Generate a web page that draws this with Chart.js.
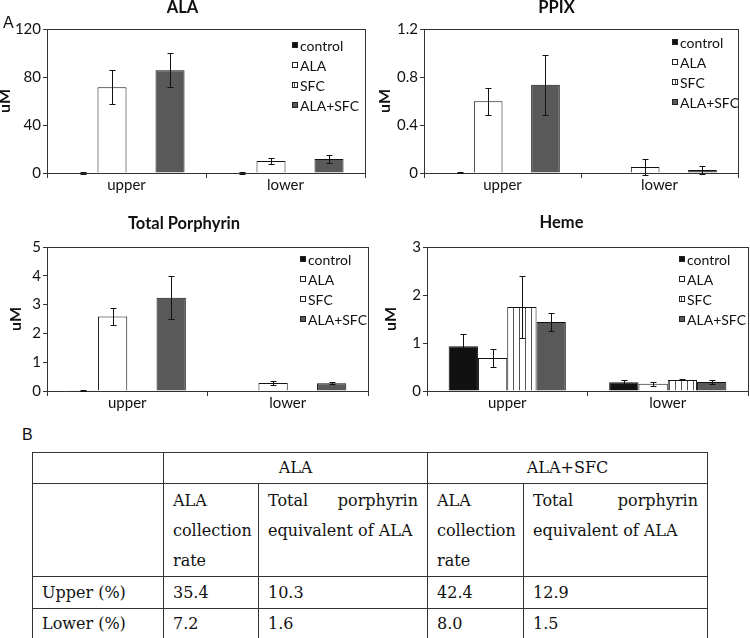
<!DOCTYPE html>
<html>
<head>
<meta charset="utf-8">
<script src="https://cdn.jsdelivr.net/npm/chart.js@4.4.0/dist/chart.umd.min.js"></script>
<style>
  body { margin: 0; background: #fff; }
  #page { position: relative; width: 750px; height: 638px; overflow: hidden; background: #fff; }
  canvas { position: absolute; }
  .panel { position: absolute; font-family: 'Liberation Sans', Arial, sans-serif; color: #111; line-height: 16px; }
  #tbl { position: absolute; left: 32px; top: 452px; width: 675px; border-collapse: collapse; table-layout: fixed;
         font-family: 'DejaVu Serif', serif; font-size: 16px; color: #111; }
  #tbl td { border: 1px solid #333; padding: 0 5px 0 9px; line-height: 30px; text-align: left; vertical-align: middle; white-space: normal; }
  #tbl td.c { text-align: center; padding: 0; }
  #tbl tr.sub td { vertical-align: top; padding-top: 2px; text-align: justify; }
  #tbl tr.sub td.wide { padding-right: 9px; }
</style>
</head>
<body>
<div id="page">
  <canvas id="c1"></canvas>
  <canvas id="c2"></canvas>
  <canvas id="c3"></canvas>
  <canvas id="c4"></canvas>
  <div class="panel" style="left:3px; top:15px; font-size:16px;">A</div>
  <div class="panel" style="left:22px; top:427px; font-size:16px;">B</div>
  <table id="tbl"></table>
</div>
<script>
// categories and series
const categories = ['upper', 'lower'];
const seriesNames = ['control', 'ALA', 'SFC', 'ALA+SFC'];

// one row per series: [upper, lower]
const alaMean = [[0, 0], [71.4, 10.0], [0, 0], [85.6, 11.7]];
const alaErr = [[0.8, 0.8], [14.3, 2.1], [0, 0], [14.3, 3.0]];
const alaTicks = [0, 40, 80, 120];

const ppixMean = [[0.005, 0], [0.597, 0.05], [0.005, 0], [0.736, 0.025]];
const ppixErr = [[0.004, 0], [0.11, 0.07], [0, 0], [0.25, 0.033]];
const ppixTicks = [0, 0.4, 0.8, 1.2];

const porphMean = [[0.01, 0], [2.59, 0.28], [0.02, 0], [3.24, 0.27]];
const porphErr = [[0.01, 0], [0.3, 0.06], [0, 0], [0.75, 0.04]];
const porphTicks = [0, 1, 2, 3, 4, 5];

const hemeMean = [[0.93, 0.18], [0.69, 0.15], [1.75, 0.23], [1.44, 0.19]];
const hemeErr = [[0.26, 0.05], [0.19, 0.04], [0.65, 0.01], [0.18, 0.04]];
const hemeTicks = [0, 1, 2, 3];

// table B
const groupHeads = ['ALA', 'ALA+SFC'];
const subHeads = ['ALA collection rate', 'Total porphyrin equivalent of ALA'];
const rowLabels = ['Upper (%)', 'Lower (%)'];
const alaCollection = ['35.4', '7.2'];
const alaPorphyrin = ['10.3', '1.6'];
const mixCollection = ['42.4', '8.0'];
const mixPorphyrin = ['12.9', '1.5'];

// vertical stripes for the SFC bars
function stripes() {
  const p = document.createElement('canvas');
  p.width = 6; p.height = 6;
  const c = p.getContext('2d');
  c.fillStyle = '#fff';
  c.fillRect(0, 0, 6, 6);
  c.fillStyle = '#555';
  c.fillRect(0, 0, 1, 6);
  return c.createPattern(p, 'repeat');
}
const fills = ['#111', '#fff', stripes(), '#595959'];

const errorBars = {
  id: 'errorBars',
  afterDatasetsDraw(chart) {
    const ctx = chart.ctx, y = chart.scales.y;
    ctx.save();
    ctx.strokeStyle = '#111';
    ctx.lineWidth = 1;
    chart.data.datasets.forEach((ds, i) => {
      chart.getDatasetMeta(i).data.forEach((bar, j) => {
        const e = ds.errors[j];
        if (!e) return;
        const v = ds.data[j];
        const top = Math.round(y.getPixelForValue(v + e)) + 0.5;
        const bot = Math.round(y.getPixelForValue(v - e)) + 0.5;
        const x = Math.round(bar.x) + 0.5;
        ctx.beginPath();
        ctx.moveTo(x, top); ctx.lineTo(x, bot);
        ctx.moveTo(x - 3, top); ctx.lineTo(x + 3, top);
        ctx.moveTo(x - 3, bot); ctx.lineTo(x + 3, bot);
        ctx.stroke();
      });
    });
    ctx.restore();
  }
};

// box around the plot area
const frame = {
  id: 'frame',
  afterDatasetsDraw(chart) {
    const {ctx, chartArea: a} = chart;
    ctx.save();
    ctx.strokeStyle = '#333';
    ctx.lineWidth = 1;
    ctx.strokeRect(Math.round(a.left) + 0.5, Math.round(a.top) + 0.5,
                   Math.round(a.right - a.left), Math.round(a.bottom - a.top));
    ctx.restore();
  }
};

// legend drawn inside the plot, top right
const insideLegend = {
  id: 'insideLegend',
  afterDraw(chart, args, opts) {
    const {ctx, chartArea: a} = chart;
    const x = Math.round(a.right + opts.dx), y0 = a.top + opts.dy;
    ctx.save();
    ctx.font = '14px Lato';
    ctx.textBaseline = 'middle';
    chart.data.datasets.forEach((ds, i) => {
      const y = Math.round(y0 + i * 20);
      ctx.fillStyle = ds.backgroundColor;
      ctx.fillRect(x, y - 3, 6, 6);
      ctx.strokeStyle = '#222';
      ctx.strokeRect(x + 0.5, y - 2.5, 5, 5);
      ctx.fillStyle = '#111';
      ctx.fillText(ds.label, x + 8, y + 1);
    });
    ctx.restore();
  }
};

function makeChart(id, box, area, title, titleY, yTitlePad, mean, err, ticks, legendPos) {
  const cv = document.getElementById(id);
  cv.width = box.w; cv.height = box.h;
  cv.style.left = box.x + 'px'; cv.style.top = box.y + 'px';
  cv.style.width = box.w + 'px'; cv.style.height = box.h + 'px';

  const titleSize = 16.5;
  const padTop = titleY - box.y - titleSize / 2;
  const padBottom = area.top - box.y - padTop - titleSize;

  new Chart(cv, {
    type: 'bar',
    data: {
      labels: categories,
      datasets: seriesNames.map((name, i) => ({
        label: name,
        data: mean[i],
        errors: err[i],
        backgroundColor: fills[i],
        borderColor: '#111',
        borderWidth: 1,
        borderSkipped: 'bottom',
        barPercentage: 1,
        categoryPercentage: 0.73
      }))
    },
    options: {
      responsive: false,
      animation: false,
      layout: { padding: { left: 0, right: box.x + box.w - area.right, top: 0, bottom: 0 } },
      scales: {
        x: {
          grid: { drawOnChartArea: false, tickLength: 5, color: '#333', offset: true },
          border: { display: false },
          ticks: { padding: -2, color: '#111', font: { family: 'Lato', size: 15 } },
          afterFit: s => { s.height = box.y + box.h - area.bottom; }
        },
        y: {
          min: ticks[0],
          max: ticks[ticks.length - 1],
          ticks: { stepSize: ticks[1] - ticks[0], padding: 2, color: '#111', font: { family: 'Lato', size: 15 } },
          grid: { drawOnChartArea: false, tickLength: 4, color: '#333' },
          border: { display: false },
          title: { display: true, text: 'uM', color: '#111', padding: { top: yTitlePad, bottom: 0 },
                   font: { family: 'Lato', size: 16, weight: 'bold', lineHeight: 1 } },
          afterFit: s => { s.width = area.left - box.x; }
        }
      },
      plugins: {
        legend: { display: false },
        tooltip: { enabled: false },
        title: {
          display: true, text: title, color: '#111',
          font: { family: 'Lato', size: titleSize, weight: 'bold', lineHeight: 1 },
          padding: { top: padTop, bottom: padBottom }
        },
        insideLegend: legendPos
      }
    },
    plugins: [frame, errorBars, insideLegend]
  });
}

makeChart('c1', {x: 0, y: 0, w: 375, h: 205}, {left: 47, right: 365, top: 29, bottom: 173},
  'ALA', 7.5, -3, alaMean, alaErr, alaTicks, {dx: -73, dy: 16});
makeChart('c2', {x: 375, y: 0, w: 375, h: 205}, {left: 424, right: 738, top: 29, bottom: 173},
  'PPIX', 7.5, 2, ppixMean, ppixErr, ppixTicks, {dx: -66, dy: 13});
makeChart('c3', {x: 0, y: 200, w: 375, h: 225}, {left: 47, right: 368, top: 247, bottom: 391},
  'Total Porphyrin', 223.5, 8, porphMean, porphErr, porphTicks, {dx: -68, dy: 12});
makeChart('c4', {x: 375, y: 200, w: 375, h: 225}, {left: 427, right: 748, top: 247, bottom: 391},
  'Heme', 222.5, 8, hemeMean, hemeErr, hemeTicks, {dx: -69, dy: 12});

// table B
(function buildTable() {
  const widths = [131, 95, 169, 96, 184];
  let html = '<colgroup>' + widths.map(w => '<col style="width:' + w + 'px">').join('') + '</colgroup>';
  html += '<tr style="height:31px"><td></td>' +
    groupHeads.map(g => '<td class="c" colspan="2">' + g + '</td>').join('') + '</tr>';
  html += '<tr class="sub" style="height:92px"><td></td>' +
    groupHeads.map(() => subHeads.map((s, k) => '<td' + (k ? ' class="wide"' : '') + '>' + s + '</td>').join('')).join('') + '</tr>';
  const rowHeights = [32, 30];
  rowLabels.forEach((r, i) => {
    html += '<tr style="height:' + rowHeights[i] + 'px"><td>' + r + '</td><td>' + alaCollection[i] + '</td><td>' +
      alaPorphyrin[i] + '</td><td>' + mixCollection[i] + '</td><td>' + mixPorphyrin[i] + '</td></tr>';
  });
  document.getElementById('tbl').innerHTML = html;
})();
</script>
</body>
</html>
